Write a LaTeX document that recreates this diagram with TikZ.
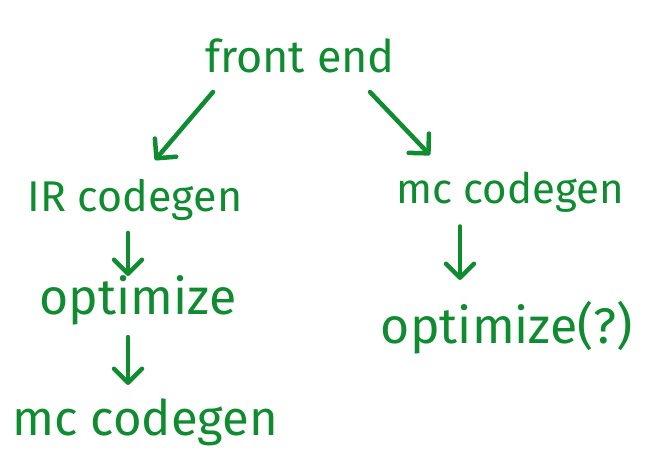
\documentclass[tikz,border=0pt]{standalone}
\usepackage{fontspec}
\setmainfont{Fira Sans}
\usetikzlibrary{arrows.meta}
\definecolor{ink}{RGB}{16,140,48}
\tikzset{
  lbl/.style={text=ink, inner sep=0pt, font=\fontsize{42}{48}\selectfont},
  conn/.style={draw=ink, line width=4.5pt, line cap=round, line join=round,
    -{Straight Barb[length=14pt,width=28pt,line width=4.5pt,round]}}
}
\begin{document}
\begin{tikzpicture}[x=1pt,y=-1pt]
\useasboundingbox (0,0) rectangle (646,456);
\node[lbl, font=\fontsize{45}{50}\selectfont] (fe) at (300,56) {front end};
\node[lbl, font=\fontsize{43}{48}\selectfont] (ir) at (135,200) {IR codegen};
\node[lbl] (mc1) at (510,192) {mc codegen};
\node[lbl, font=\fontsize{50}{54}\selectfont] (op1) at (138,300) {optimize};
\node[lbl, font=\fontsize{50}{54}\selectfont] (op2) at (507,328) {optimize(?)};
\node[lbl, font=\fontsize{49}{54}\selectfont] (mc2) at (145,422) {mc codegen};
\coordinate (a1s) at (213,92); \coordinate (a1e) at (155,160);
\coordinate (a2s) at (370,92); \coordinate (a2e) at (430,155);
\draw[conn] (a1s) -- (a1e);
\draw[conn] (a2s) -- (a2e);
\draw[conn] (ir.south -| 128,0) ++(0,12) -- (128,276);
\draw[conn] (mc1.south -| 460,0) ++(0,14) -- (460,280);
\draw[conn] (op1.south -| 128,0) ++(0,12) -- (128,385);
\end{tikzpicture}
\end{document}
